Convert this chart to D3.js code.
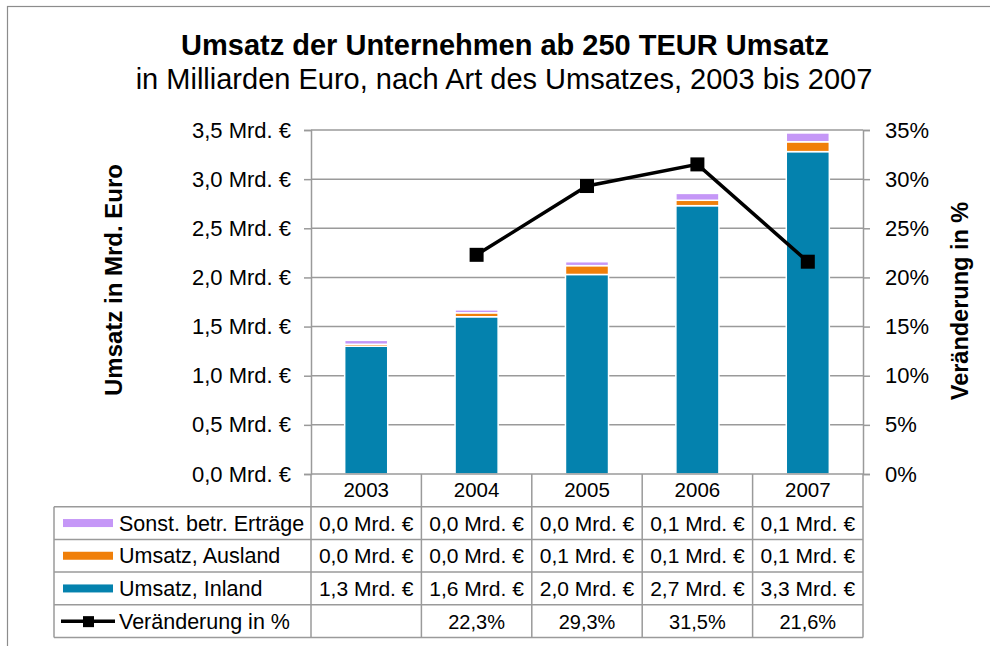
<!DOCTYPE html>
<html>
<head>
<meta charset="utf-8">
<script src="https://cdn.jsdelivr.net/npm/d3@7"></script>
<style>
  body { margin: 0; background: #fff; }
  svg text { font-family: "Liberation Sans", Arial, sans-serif; fill: #000; }
</style>
</head>
<body>
<div id="chart"></div>
<script>
// data
const years = ["2003", "2004", "2005", "2006", "2007"]
const inland = [1.30, 1.60, 2.03, 2.73, 3.28]
const ausland = [0.02, 0.04, 0.09, 0.055, 0.10]
const sonst = [0.04, 0.03, 0.04, 0.07, 0.09]
const change = [null, 22.3, 29.3, 31.5, 21.6]
const leftTicks = [0, 0.5, 1, 1.5, 2, 2.5, 3, 3.5]
const rightTicks = [0, 5, 10, 15, 20, 25, 30, 35]

const seriesNames = ["Sonst. betr. Erträge", "Umsatz, Ausland", "Umsatz, Inland"]
const seriesColors = ["#c597f7", "#f07f09", "#0482ae"]
const lineName = "Veränderung in %"

let svg_width = 990
let svg_height = 646

var margin = { top: 130, right: 127, bottom: 172, left: 311 },
    width = svg_width - margin.left - margin.right,
    height = svg_height - margin.top - margin.bottom;

var locale = d3.formatLocale({ decimal: ",", thousands: ".", grouping: [3], currency: ["", " €"] })
var fmt1 = locale.format(".1f")
var mrd = d => fmt1(d) + " Mrd. €"

var svg = d3.select("#chart")
    .append("svg")
    .attr("width", svg_width)
    .attr("height", svg_height)

// outer frame
svg.append("rect")
    .attr("x", 7.5).attr("y", 6.5)
    .attr("width", 1000).attr("height", 700)
    .attr("fill", "none")
    .attr("stroke", "#8c8c8c")
    .attr("stroke-width", 1.2)

svg.append("text")
    .attr("x", 505).attr("y", 55)
    .attr("text-anchor", "middle")
    .style("font-size", "29px")
    .style("font-weight", "bold")
    .text("Umsatz der Unternehmen ab 250 TEUR Umsatz")

svg.append("text")
    .attr("x", 504).attr("y", 89)
    .attr("text-anchor", "middle")
    .style("font-size", "29px")
    .text("in Milliarden Euro, nach Art des Umsatzes, 2003 bis 2007")

var g = svg.append("g")
    .attr("transform", "translate(" + margin.left + "," + margin.top + ")")

var xScale = d3.scaleBand()
    .domain(years)
    .range([0, width])
    .padding(0)

var yScale = d3.scaleLinear()
    .domain([0, 3.5])
    .range([height, 0])

var yRight = d3.scaleLinear()
    .domain([0, 35])
    .range([height, 0])

// gridlines
g.append("g").selectAll("line").data(leftTicks.slice(1))
    .enter().append("line")
    .attr("x1", 0).attr("x2", width)
    .attr("y1", d => yScale(d)).attr("y2", d => yScale(d))
    .style("stroke", "#9a9a9a")
    .style("stroke-width", "1.5px")

// left axis
var yAxis = g.append("g")
    .call(d3.axisLeft(yScale).tickValues(leftTicks).tickFormat(mrd).tickSize(7).tickPadding(13))
yAxis.select(".domain").attr("stroke", "#9a9a9a").attr("stroke-width", 1.5)
yAxis.selectAll(".tick line").attr("stroke", "#9a9a9a").attr("stroke-width", 1.5)
yAxis.selectAll("text").style("font-size", "22px").style("font-family", "Liberation Sans, Arial, sans-serif").attr("fill", "#000")

// right axis
var yAxisR = g.append("g")
    .attr("transform", "translate(" + width + ",0)")
    .call(d3.axisRight(yRight).tickValues(rightTicks).tickFormat(d => d + "%").tickSize(7).tickPadding(15))
yAxisR.select(".domain").attr("stroke", "#9a9a9a").attr("stroke-width", 1.5)
yAxisR.selectAll(".tick line").attr("stroke", "#9a9a9a").attr("stroke-width", 1.5)
yAxisR.selectAll("text").style("font-size", "22px").style("font-family", "Liberation Sans, Arial, sans-serif").attr("fill", "#000")

// axis titles
g.append("text")
    .attr("transform", "translate(-189,150) rotate(-90)")
    .attr("text-anchor", "middle")
    .style("font-size", "24px")
    .style("font-weight", "bold")
    .text("Umsatz in Mrd. Euro")

g.append("text")
    .attr("transform", "translate(" + (width + 105) + ",171) rotate(-90)")
    .attr("text-anchor", "middle")
    .style("font-size", "23.5px")
    .style("font-weight", "bold")
    .text("Veränderung in %")

// stacked bars
var rows = years.map((y, i) => ({ year: y, inland: inland[i], ausland: ausland[i], sonst: sonst[i] }))
var stack = d3.stack().keys(["inland", "ausland", "sonst"])(rows)
var colorOf = { inland: seriesColors[2], ausland: seriesColors[1], sonst: seriesColors[0] }
var barW = xScale.bandwidth() * 0.39

g.append("g").selectAll("g").data(stack)
    .enter().append("g")
    .attr("fill", d => colorOf[d.key])
    .selectAll("rect").data(d => d)
    .enter().append("rect")
    .attr("x", d => xScale(d.data.year) + (xScale.bandwidth() - barW) / 2)
    .attr("width", barW)
    .attr("y", d => yScale(d[1]))
    .attr("height", d => yScale(d[0]) - yScale(d[1]))
    .attr("stroke", "#fff")
    .attr("stroke-width", 1.5)

// line for change
var lineData = years.map((y, i) => ({ year: y, v: change[i] })).filter(d => d.v != null)
var line = d3.line()
    .x(d => xScale(d.year) + xScale.bandwidth() / 2)
    .y(d => yRight(d.v))

g.append("path").datum(lineData)
    .attr("d", line)
    .attr("fill", "none")
    .attr("stroke", "#000")
    .attr("stroke-width", 3.5)

g.append("g").selectAll("rect").data(lineData)
    .enter().append("rect")
    .attr("x", d => xScale(d.year) + xScale.bandwidth() / 2 - 7)
    .attr("y", d => yRight(d.v) - 7)
    .attr("width", 14).attr("height", 14)
    .attr("fill", "#000")

// data table below the plot
var rowH = 32.7
var tableLeft = 54 - margin.left
var tbl = g.append("g").attr("transform", "translate(0," + height + ")")
var gridColor = "#9a9a9a"

// horizontal lines
for (let r = 1; r <= 5; r++) {
    tbl.append("line")
        .attr("x1", tableLeft).attr("x2", width)
        .attr("y1", r * rowH).attr("y2", r * rowH)
        .attr("stroke", gridColor).attr("stroke-width", 1.5)
}
// x axis line
tbl.append("line")
    .attr("x1", 0).attr("x2", width)
    .attr("y1", 0).attr("y2", 0)
    .attr("stroke", gridColor).attr("stroke-width", 1.5)
// vertical lines
var colEdges = years.map(y => xScale(y)).concat([width])
tbl.selectAll("line.col").data(colEdges)
    .enter().append("line")
    .attr("class", "col")
    .attr("x1", d => d).attr("x2", d => d)
    .attr("y1", 0).attr("y2", 5 * rowH)
    .attr("stroke", gridColor).attr("stroke-width", 1.5)
tbl.append("line")
    .attr("x1", tableLeft).attr("x2", tableLeft)
    .attr("y1", rowH).attr("y2", 5 * rowH)
    .attr("stroke", gridColor).attr("stroke-width", 1.5)

// header row
tbl.selectAll("text.year").data(years)
    .enter().append("text")
    .attr("class", "year")
    .attr("x", d => xScale(d) + xScale.bandwidth() / 2)
    .attr("y", rowH / 2 + 7)
    .attr("text-anchor", "middle")
    .style("font-size", "20.5px")
    .text(d => d)

var tableRows = [
    { name: seriesNames[0], color: seriesColors[0], values: sonst.map(mrd) },
    { name: seriesNames[1], color: seriesColors[1], values: ausland.map(mrd) },
    { name: seriesNames[2], color: seriesColors[2], values: inland.map(mrd) },
    { name: lineName, color: null, values: change.map(v => v == null ? "" : fmt1(v) + "%") }
]

tableRows.forEach((row, r) => {
    var cy = (r + 1) * rowH + rowH / 2
    if (row.color) {
        tbl.append("rect")
            .attr("x", tableLeft + 9).attr("y", cy - 4)
            .attr("width", 50).attr("height", 8)
            .attr("fill", row.color)
    } else {
        tbl.append("line")
            .attr("x1", tableLeft + 7).attr("x2", tableLeft + 61)
            .attr("y1", cy).attr("y2", cy)
            .attr("stroke", "#000").attr("stroke-width", 3.5)
        tbl.append("rect")
            .attr("x", tableLeft + 29).attr("y", cy - 5)
            .attr("width", 11).attr("height", 11)
            .attr("fill", "#000")
    }
    tbl.append("text")
        .attr("x", tableLeft + 65).attr("y", cy + 7.5)
        .style("font-size", "21.5px")
        .text(row.name)
    row.values.forEach((v, i) => {
        tbl.append("text")
            .attr("x", xScale(years[i]) + xScale.bandwidth() / 2)
            .attr("y", cy + 7.5)
            .attr("text-anchor", "middle")
            .style("font-size", r === 3 ? "20px" : "21px")
            .text(v)
    })
})
</script>
</body>
</html>
